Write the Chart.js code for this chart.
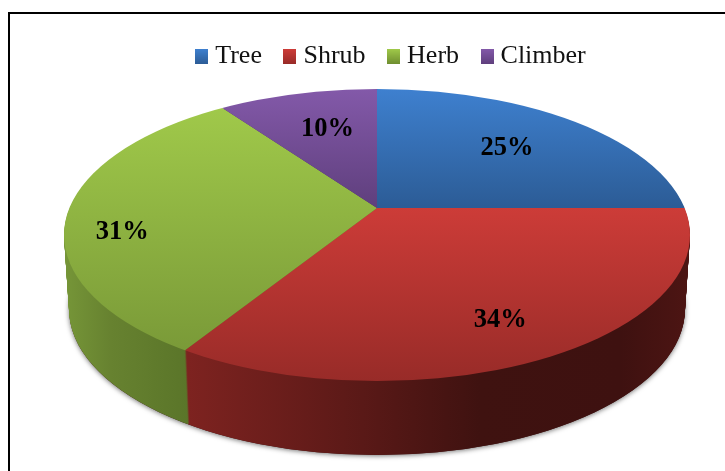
<!DOCTYPE html>
<html>
<head>
<meta charset="utf-8">
<title>Growth forms</title>
<script src="https://cdn.jsdelivr.net/npm/chart.js@4"></script>
<style>
  html, body { margin: 0; padding: 0; background: #fff; overflow: hidden; }
  #frame { position: absolute; left: 8px; top: 12px; width: 717px; height: 459px; border-left: 2px solid #000; border-top: 2px solid #000; box-sizing: border-box; }
  #chart { position: absolute; left: 0; top: 0; display: block; }
</style>
</head>
<body>
<div id="frame"></div>
<canvas id="chart" width="725" height="471"></canvas>
<script>
// --- Data ---
const categories = ["Tree", "Shrub", "Herb", "Climber"];
const shares = [25, 34, 31, 10];

// --- Colours: top face [upper, lower], with the y range of each gradient ---
const topColors = [["#3e80cf", "#2c5c96"], ["#cd3c38", "#982b28"], ["#a0c94a", "#7a9a38"], ["#8359a9", "#5f3f7d"]];
const topRanges = [[89, 207], [206, 381], [107, 350], [89, 207]];
const legendColors = [["#3e80cf", "#2c5c96"], ["#cd3c38", "#982b28"], ["#a0c94a", "#6f8e30"], ["#8359a9", "#5f3f7d"]];
const sideStops = [
  [[377, "#234a78"], [683, "#1f4068"]],
  [[185, "#7e2320"], [362, "#5a1917"], [480, "#3f1210"], [620, "#3e1110"], [690, "#4d1513"]],
  [[64, "#769638"], [110, "#678230"], [190, "#5a7529"]],
  [[226, "#4b3263"], [377, "#4b3263"]]
];

// --- Pie geometry on the page (tilted disc) ---
const apexX = 377, apexY = 208;
const rimX = 377, rimY = 235, rimRx = 313, rimRy = 146;
const tilt = 0.47;
const depth = 74, depthShrink = 5;
const reach = 400;
const labelRadius = [184, 256, 255, 160];
const labelNudgeY = [1, 7, 20, -7];
const labelFont = "bold 26.5px 'Liberation Serif'";

function legendMarker(colors) {
  const c = document.createElement("canvas");
  c.width = 13;
  c.height = 15;
  const g = c.getContext("2d");
  const grad = g.createLinearGradient(0, 0, 0, 15);
  grad.addColorStop(0, colors[0]);
  grad.addColorStop(1, colors[1]);
  g.fillStyle = grad;
  g.fillRect(0, 0, 13, 15);
  return c;
}

// draws the library's arcs squashed into the tilted disc, clipped to the rim
function drawLayer(ctx, meta, offset, shrink, fillFor) {
  const arcs = meta.data;
  const k = reach / arcs[0].outerRadius;
  const narrow = (rimRx - shrink) / rimRx;
  arcs.forEach((arc, i) => {
    const base = arc.options;
    ctx.save();
    ctx.beginPath();
    ctx.ellipse(rimX, rimY + offset, rimRx - shrink, rimRy, 0, 0, Math.PI * 2);
    ctx.clip();
    ctx.translate(apexX, apexY + offset);
    ctx.scale(k * narrow, k * tilt);
    ctx.translate(-arc.x, -arc.y);
    arc.options = Object.assign({}, base, { backgroundColor: fillFor(ctx, arc, i, k * narrow), borderWidth: 0 });
    arc.draw(ctx);
    arc.options = base;
    ctx.restore();
  });
}

function sideFill(ctx, arc, i, k) {
  const x0 = arc.x + (0 - apexX) / k;
  const x1 = arc.x + (725 - apexX) / k;
  const grad = ctx.createLinearGradient(x0, 0, x1, 0);
  sideStops[i].forEach(s => grad.addColorStop(s[0] / 725, s[1]));
  return grad;
}

function topFill(ctx, arc, i, k) {
  const y0 = arc.y + (topRanges[i][0] - apexY) / (k * tilt);
  const y1 = arc.y + (topRanges[i][1] - apexY) / (k * tilt);
  const grad = ctx.createLinearGradient(0, y0, 0, y1);
  grad.addColorStop(0, topColors[i][0]);
  grad.addColorStop(1, topColors[i][1]);
  return grad;
}

// --- Plugin: replaces the flat pie by the tilted one with a side wall ---
const tiltedPie = {
  id: "tiltedPie",
  beforeDatasetsDraw(chart) {
    const ctx = chart.ctx;
    const meta = chart.getDatasetMeta(0);

    // soft shadow under the wall
    ctx.save();
    ctx.shadowColor = "rgba(0,0,0,0.55)";
    ctx.shadowBlur = 5;
    ctx.shadowOffsetY = 1;
    ctx.fillStyle = "#3e1110";
    ctx.beginPath();
    ctx.ellipse(rimX, rimY + depth, rimRx - depthShrink, rimRy, 0, 0, Math.PI * 2);
    ctx.fill();
    ctx.restore();

    for (let d = depth; d >= 1; d--) {
      drawLayer(ctx, meta, d, depthShrink * d / depth, sideFill);
    }
    drawLayer(ctx, meta, 0, 0, topFill);

    ctx.save();
    ctx.font = labelFont;
    ctx.fillStyle = "#000";
    ctx.textAlign = "center";
    ctx.textBaseline = "middle";
    meta.data.forEach((arc, i) => {
      const mid = (arc.startAngle + arc.endAngle) / 2;
      const x = apexX + labelRadius[i] * Math.cos(mid);
      const y = apexY + labelRadius[i] * tilt * Math.sin(mid) + labelNudgeY[i];
      ctx.fillText(shares[i] + "%", x, y);
    });
    ctx.restore();
    return false;
  }
};

new Chart(document.getElementById("chart").getContext("2d"), {
  type: "pie",
  data: {
    labels: categories,
    datasets: [{
      data: shares,
      backgroundColor: topColors.map(c => c[0]),
      borderWidth: 0
    }]
  },
  options: {
    responsive: false,
    animation: false,
    layout: { padding: { top: 16, left: 62 } },
    plugins: {
      tooltip: { enabled: false },
      legend: {
        position: "top",
        labels: {
          usePointStyle: true,
          pointStyleWidth: 1,
          padding: 27.5,
          color: "#111",
          font: { family: "'Liberation Serif'", size: 26 },
          generateLabels: () => categories.map((name, i) => ({
            text: name,
            pointStyle: legendMarker(legendColors[i]),
            fontColor: "#111",
            lineWidth: 0,
            hidden: false,
            index: i
          }))
        }
      }
    }
  },
  plugins: [tiltedPie]
});
</script>
</body>
</html>
